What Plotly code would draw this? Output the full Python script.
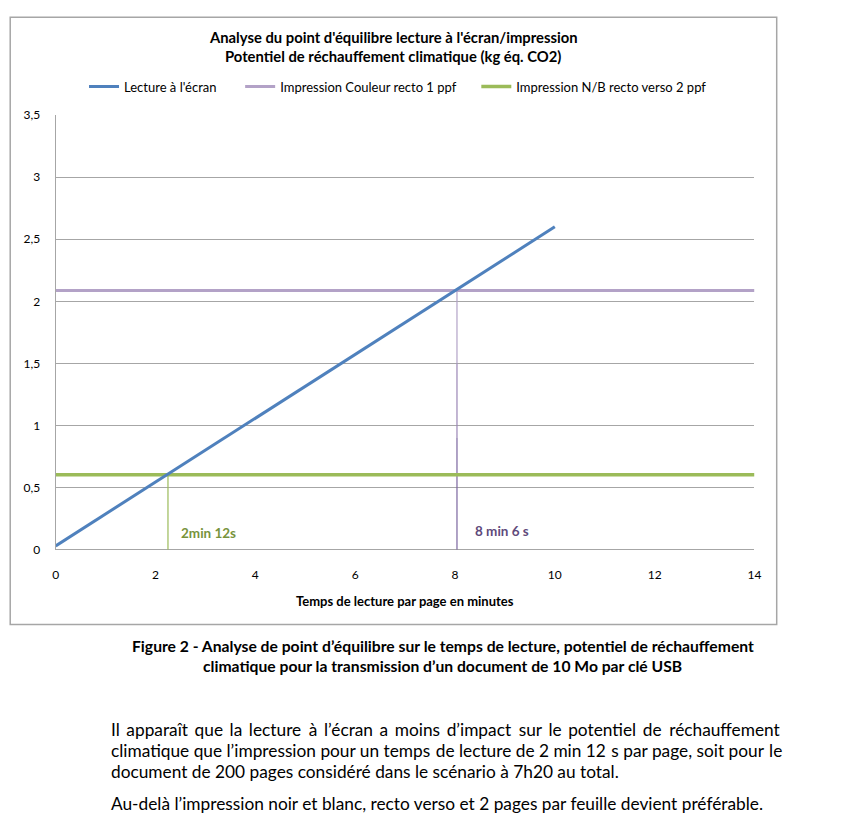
import plotly.graph_objects as go

# ---------------- data ----------------
x_screen = [0, 10]
y_screen = [0.032, 2.60]
x_span = [0, 14]
y_color = [2.087, 2.087]
y_nb = [0.604, 0.604]
x_eq_nb = 2.25      # 2 min 12 s
x_eq_color = 8.04   # 8 min 6 s
series_names = ["Lecture à l'écran", "Impression Couleur recto 1 ppf", "Impression N/B recto verso 2 ppf"]
label_nb = "2min 12s"
label_color = "8 min 6 s"
y_ticks = [0, 0.5, 1, 1.5, 2, 2.5, 3, 3.5]
x_ticks = [0, 2, 4, 6, 8, 10, 12, 14]
title_lines = ["Analyse du point d'équilibre lecture à l'écran/impression",
               "Potentiel de réchauffement climatique (kg éq. CO2)"]
x_title = "Temps de lecture par page en minutes"
caption_lines = ["Figure 2 - Analyse de point d’équilibre sur le temps de lecture, potentiel de réchauffement",
                 "climatique pour la transmission d’un document de 10 Mo par clé USB"]
para_lines = ["Il apparaît que la lecture à l’écran a moins d’impact sur le potentiel de réchauffement",
              "climatique que l’impression pour un temps de lecture de 2 min 12 s par page, soit pour le",
              "document de 200 pages considéré dans le scénario à 7h20 au total.",
              "Au-delà l’impression noir et blanc, recto verso et 2 pages par feuille devient préférable."]

# ---------------- layout helpers ----------------
W, H = 842, 839
def px(x): return x / W
def py(y): return 1 - y / H

FONT = "Lato, 'Liberation Sans Narrow', sans-serif"
BLUE, LAV, GREEN = "#4F81BD", "#B3A2C7", "#9BBB59"
GRID = "#A6A6A6"
HAIR = "\u200a"
extra_hairs = [31, 3, 0, 0]   # hair spaces used to justify the first two paragraph lines

def justify(text, n):
    if n <= 0:
        return text
    words = text.split(" ")
    gaps = len(words) - 1
    out = words[0]
    for i in range(gaps):
        k = (n * (i + 1)) // gaps - (n * i) // gaps
        out += " " + HAIR * k + words[i + 1]
    return out

fig = go.Figure()

# drop lines (purple drawn as gradient segments, light to dark)
drop_segments = [(2.087, 1.5, "#B3A2C7"), (1.5, 0.9, "#9A86B6"), (0.9, 0.0, "#7A659F")]
for y0, y1, c in drop_segments:
    fig.add_trace(go.Scatter(x=[x_eq_color, x_eq_color], y=[y0, y1], mode="lines",
                             line=dict(color=c, width=1.2), showlegend=False, hoverinfo="skip"))
fig.add_trace(go.Scatter(x=[x_eq_nb, x_eq_nb], y=[0, y_nb[0]], mode="lines",
                         line=dict(color=GREEN, width=1.2), showlegend=False, hoverinfo="skip"))

fig.add_trace(go.Scatter(x=x_span, y=y_color, mode="lines", name=series_names[1],
                         line=dict(color=LAV, width=3), legend="legend2"))
fig.add_trace(go.Scatter(x=x_span, y=y_nb, mode="lines", name=series_names[2],
                         line=dict(color=GREEN, width=3.5), legend="legend3"))
fig.add_trace(go.Scatter(x=x_screen, y=y_screen, mode="lines", name=series_names[0],
                         line=dict(color=BLUE, width=3), legend="legend"))

legend_common = dict(orientation="h", yanchor="middle", y=py(80), xanchor="left",
                     font=dict(family=FONT, size=13, color="#000"), bgcolor="rgba(0,0,0,0)",
                     itemwidth=30, tracegroupgap=0)
fig.update_layout(
    legend=dict(x=px(82), **legend_common),
    legend2=dict(x=px(240), **legend_common),
    legend3=dict(x=px(479), **legend_common),
)

annotations = []
for t, yy in zip(title_lines, [29.5, 48.5]):
    annotations.append(dict(text="<b>%s</b>" % t, x=px(395), y=py(yy), xref="paper", yref="paper",
                            showarrow=False, xanchor="center", yanchor="middle",
                            font=dict(family=FONT, size=14.8, color="#000")))
annotations.append(dict(text="<b>%s</b>" % x_title, x=px(407), y=py(604), xref="paper", yref="paper",
                        showarrow=False, xanchor="center", yanchor="middle",
                        font=dict(family=FONT, size=13, color="#000")))
annotations.append(dict(text="<b>%s</b>" % label_nb, x=2.48, y=0.132, xref="x", yref="y",
                        showarrow=False, xanchor="left", yanchor="middle",
                        font=dict(family=FONT, size=13.5, color="#77933C")))
annotations.append(dict(text="<b>%s</b>" % label_color, x=8.37, y=0.148, xref="x", yref="y",
                        showarrow=False, xanchor="left", yanchor="middle",
                        font=dict(family=FONT, size=13.5, color="#604A7B")))
for t, yy in zip(caption_lines, [650, 670]):
    annotations.append(dict(text="<b>%s</b>" % t, x=px(445), y=py(yy), xref="paper", yref="paper",
                            showarrow=False, xanchor="center", yanchor="middle",
                            font=dict(family=FONT, size=15.7, color="#000")))
PL = 107
for t, n, yy in zip(para_lines, extra_hairs, [735, 756, 777, 810]):
    annotations.append(dict(text=justify(t, n), x=px(PL), y=py(yy), xref="paper", yref="paper",
                            showarrow=False, xanchor="left", yanchor="middle",
                            font=dict(family=FONT, size=17.3, color="#000")))

fig.update_layout(
    width=W, height=H, margin=dict(l=0, r=0, t=0, b=0),
    paper_bgcolor="white", plot_bgcolor="white",
    separators=", ",
    showlegend=True,
    annotations=annotations,
    shapes=[dict(type="rect", xref="paper", yref="paper", x0=px(7.3), x1=px(783), y0=py(627.7), y1=py(9.3),
                 line=dict(color=GRID, width=1.5), fillcolor="rgba(0,0,0,0)", layer="below")],
    xaxis=dict(domain=[px(53.3), px(760.5)], range=[0, 14], tickvals=x_ticks, showgrid=False,
               zeroline=False, showline=False, ticks="", ticklabelstandoff=16,
               tickfont=dict(family=FONT, size=12, color="#000"), fixedrange=True),
    yaxis=dict(domain=[py(551.7), py(109)], range=[0, 3.5], tickvals=y_ticks, showgrid=True,
               gridcolor=GRID, gridwidth=1.2, zeroline=True, zerolinecolor=GRID, zerolinewidth=1.2,
               showline=True, linecolor=GRID, linewidth=1.2, ticks="", ticklabelstandoff=12,
               tickfont=dict(family=FONT, size=12, color="#000"), fixedrange=True),
)

fig.write_html("out.html", config={"displayModeBar": False},
               post_script="document.body.style.margin='0';document.body.style.overflow='hidden';")
